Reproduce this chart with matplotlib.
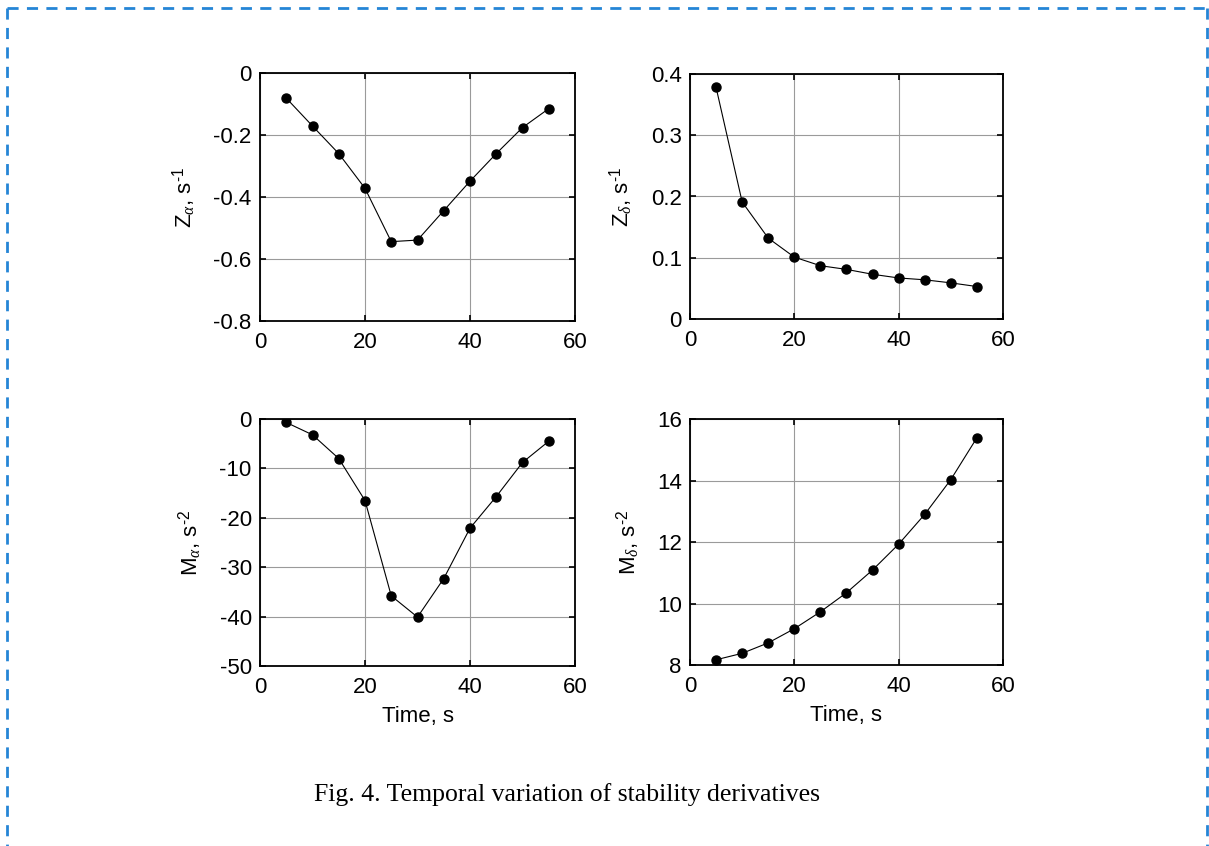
import matplotlib
matplotlib.use("Agg")
import matplotlib.pyplot as plt
from matplotlib.lines import Line2D

plt.rcParams['font.family'] = ['Liberation Sans', 'DejaVu Sans']
plt.rcParams['mathtext.fontset'] = 'custom'
plt.rcParams['mathtext.rm'] = 'Liberation Sans'
plt.rcParams['mathtext.it'] = 'Liberation Serif:italic'
plt.rcParams['mathtext.bf'] = 'Liberation Sans:bold'
plt.rcParams['axes.unicode_minus'] = False

time_s = [5, 10, 15, 20, 25, 30, 35, 40, 45, 50, 55]
z_alpha = [-0.081, -0.171, -0.260, -0.372, -0.544, -0.539, -0.444, -0.349, -0.260, -0.176, -0.115]
z_delta = [0.378, 0.191, 0.132, 0.101, 0.087, 0.081, 0.073, 0.067, 0.064, 0.059, 0.053]
m_alpha = [-0.7, -3.2, -8.0, -16.5, -35.8, -40.1, -32.3, -22.1, -15.7, -8.8, -4.5]
m_delta = [8.17, 8.38, 8.72, 9.18, 9.73, 10.35, 11.09, 11.93, 12.90, 14.03, 15.39]

x_ticks = [0, 20, 40, 60]
za_ticks = [0, -0.2, -0.4, -0.6, -0.8]
zd_ticks = [0, 0.1, 0.2, 0.3, 0.4]
ma_ticks = [0, -10, -20, -30, -40, -50]
md_ticks = [8, 10, 12, 14, 16]

ylabels = [r'Z$_{\alpha}$, s$^{\text{-1}}$', r'Z$_{\delta}$, s$^{\text{-1}}$',
           r'M$_{\alpha}$, s$^{\text{-2}}$', r'M$_{\delta}$, s$^{\text{-2}}$']
caption = "Fig. 4. Temporal variation of stability derivatives"

W, H = 1209, 846
fig = plt.figure(figsize=(W / 100, H / 100), dpi=100)

def px_axes(l, t, r, b):
    return fig.add_axes([l / W, 1 - b / H, (r - l) / W, (b - t) / H])

panels = [
    (px_axes(260, 73, 575, 321), z_alpha, (-0.8, 0), za_ticks, ['0', '-0.2', '-0.4', '-0.6', '-0.8'], ylabels[0], False),
    (px_axes(690, 74, 1003, 319), z_delta, (0, 0.4), zd_ticks, ['0', '0.1', '0.2', '0.3', '0.4'], ylabels[1], False),
    (px_axes(260, 419, 575, 666), m_alpha, (-50, 0), ma_ticks, ['0', '-10', '-20', '-30', '-40', '-50'], ylabels[2], True),
    (px_axes(690, 419, 1003, 665), m_delta, (8, 16), md_ticks, ['8', '10', '12', '14', '16'], ylabels[3], True),
]

for ax, yv, ylim, yt, ytl, ylab, show_x in panels:
    ax.plot(time_s, yv, color='black', lw=0.8, marker='o', ms=6.5, mfc='black', mec='black')
    ax.set_xlim(0, 60)
    ax.set_ylim(*ylim)
    ax.set_xticks(x_ticks)
    ax.set_xticklabels([str(v) for v in x_ticks])
    ax.set_yticks(yt)
    ax.set_yticklabels(ytl)
    ax.grid(True, color='#9a9a9a', lw=0.8, ls='-')
    ax.set_axisbelow(True)
    ax.tick_params(direction='in', length=4, width=1.2, top=True, right=True,
                   labelsize=16, colors='black')
    ax.tick_params(axis='y', pad=6)
    ax.tick_params(axis='x', pad=8)
    for s in ax.spines.values():
        s.set_linewidth(1.3)
    ax.set_ylabel(ylab, fontsize=16, labelpad=11)
    if show_x:
        ax.set_xlabel('Time, s', fontsize=16, labelpad=6)

fig.text(567 / W, 1 - 795 / H, caption, ha='center', va='center',
         fontsize=18.5, family=['Liberation Serif', 'DejaVu Serif'])

# dashed blue frame
frame_color = '#2585d6'
dash = (0, (4, 3))
fig.add_artist(Line2D([7 / W, 1208 / W], [1 - 8 / H, 1 - 8 / H], color=frame_color,
                      lw=2, ls=dash, transform=fig.transFigure))
fig.add_artist(Line2D([7 / W, 7 / W], [1 - 8 / H, 0], color=frame_color,
                      lw=2, ls=dash, transform=fig.transFigure))
fig.add_artist(Line2D([1207 / W, 1207 / W], [1 - 8 / H, 0], color=frame_color,
                      lw=2, ls=dash, transform=fig.transFigure))

fig.savefig('out.png', dpi=100, facecolor='white')
